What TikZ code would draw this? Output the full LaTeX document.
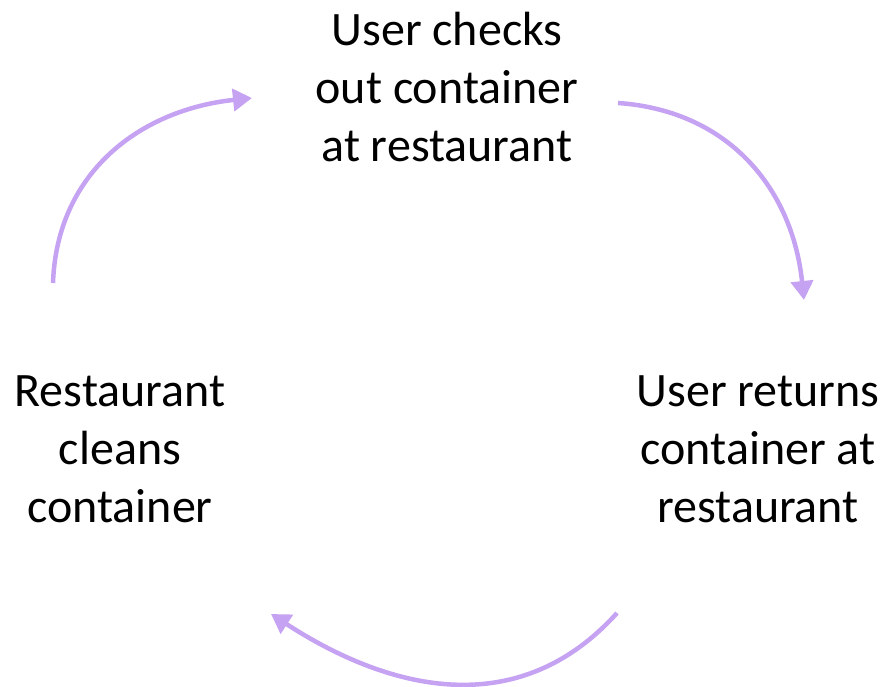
\documentclass[tikz,border=0pt]{standalone}
\usepackage{fontspec}
\setmainfont{Carlito}
\usetikzlibrary{arrows.meta}
\definecolor{lavender}{RGB}{198,162,243}

\begin{document}
\begin{tikzpicture}[x=1pt,y=1pt,
    step label/.style={align=center,font=\fontsize{48}{58}\selectfont},
    cycle arrow/.style={lavender,line width=4.5pt,-{Triangle[length=19pt,width=22pt]}}]
            \useasboundingbox (0,0) rectangle (888,687);
            \node[step label] (checkout) at (447,600) {User checks\\out container\\at restaurant};
            \node[step label] (returns) at (758,238) {User returns\\container at\\restaurant};
            \node[step label] (cleans) at (120,238) {Restaurant\\cleans\\container};

            \coordinate (cleansend) at (53,404);
            \coordinate (checkoutin) at (252,589);
            \coordinate (checkoutend) at (618,584);
            \coordinate (returnsin) at (804,387);
            \coordinate (returnsend) at (617,74);
            \coordinate (cleansin) at (271,73);

            \draw[cycle arrow] (cleansend) to[out=88,in=186,looseness=1.05] (checkoutin);
            \draw[cycle arrow] (checkoutend) to[out=-4,in=96,looseness=1.05] (returnsin);
            \draw[cycle arrow] (returnsend) to[out=228,in=-33,looseness=1.07] (cleansin);
        \end{tikzpicture}
\end{document}
